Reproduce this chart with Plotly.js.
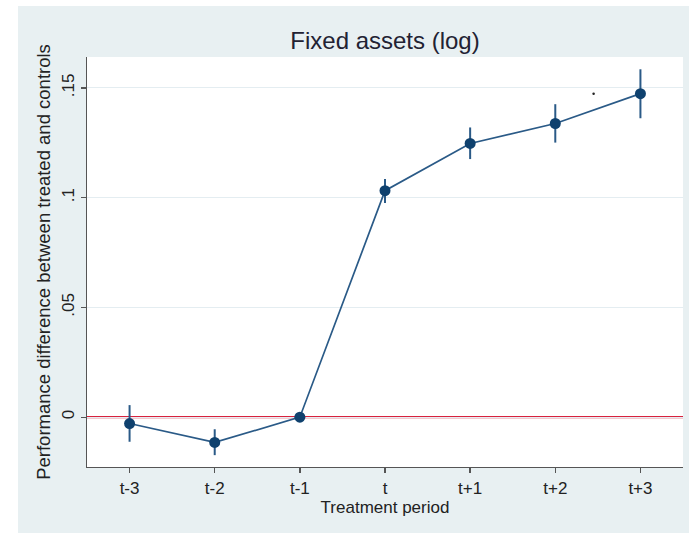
<!DOCTYPE html>
<html>
<head>
<meta charset="utf-8">
<script src="https://cdn.plot.ly/plotly-3.0.1.min.js"></script>
<style>
  html, body { margin: 0; padding: 0; background: #ffffff; width: 691px; height: 533px; overflow: hidden; }
  #chart { position: absolute; left: 18px; top: 6px; width: 671px; height: 527px; }
</style>
</head>
<body>
<div id="chart"></div>
<script>
// Data
const periods = ['t-3', 't-2', 't-1', 't', 't+1', 't+2', 't+3'];
const periodIndex = [0, 1, 2, 3, 4, 5, 6];
const estimates = [-0.0029, -0.0115, 0.0, 0.1032, 0.1247, 0.1338, 0.1474];
const ciUpper = [0.0055, -0.0055, 0.0, 0.1085, 0.1320, 0.1426, 0.1585];
const ciLower = [-0.0112, -0.0173, 0.0, 0.0976, 0.1176, 0.1251, 0.1362];
const yTickVals = [0, 0.05, 0.1, 0.15];
const yTickText = ['0', '.05', '.1', '.15'];
const refLine = [0];
const strayX = [5.45];
const strayY = [0.1473];

const errPlus = estimates.map((v, i) => ciUpper[i] - v);
const errMinus = estimates.map((v, i) => v - ciLower[i]);

const font = 'Liberation Sans, Arial, Helvetica, sans-serif';
const navy = '#0f416e';

const traces = [
  {
    x: periodIndex,
    y: estimates,
    type: 'scatter',
    mode: 'lines+markers',
    line: { color: '#2a5a87', width: 1.7 },
    marker: { color: navy, size: 11 },
    error_y: {
      type: 'data',
      symmetric: false,
      array: errPlus,
      arrayminus: errMinus,
      color: '#2a5a87',
      thickness: 2,
      width: 0
    },
    hoverinfo: 'skip',
    showlegend: false
  },
  {
    x: strayX,
    y: strayY,
    type: 'scatter',
    mode: 'markers',
    marker: { color: '#222222', size: 2.5 },
    hoverinfo: 'skip',
    showlegend: false
  }
];

const layout = {
  width: 671,
  height: 527,
  margin: { l: 69, r: 6, t: 51, b: 66, pad: 0 },
  paper_bgcolor: '#e8f0f2',
  plot_bgcolor: '#ffffff',
  font: { family: font, color: '#222222' },
  showlegend: false,
  title: {
    text: 'Fixed assets (log)',
    font: { family: font, size: 24, color: '#222233' },
    x: 0.5,
    xref: 'paper',
    xanchor: 'center',
    y: 0.934,
    yref: 'container',
    yanchor: 'middle'
  },
  xaxis: {
    range: [-0.5, 6.5],
    tickvals: periodIndex,
    ticktext: periods,
    ticks: 'outside',
    ticklen: 5,
    tickwidth: 1.3,
    tickcolor: '#555555',
    showline: true,
    linecolor: '#555555',
    linewidth: 1.3,
    showgrid: false,
    zeroline: false,
    tickfont: { family: font, size: 17, color: '#222222' },
    title: { text: 'Treatment period', font: { family: font, size: 17, color: '#222222' }, standoff: 1 },
    automargin: false,
    fixedrange: true
  },
  yaxis: {
    range: [-0.0227, 0.1641],
    tickvals: yTickVals,
    ticktext: yTickText,
    tickangle: -90,
    ticks: 'outside',
    ticklen: 5,
    tickwidth: 1.3,
    tickcolor: '#555555',
    showline: true,
    linecolor: '#555555',
    linewidth: 1.3,
    showgrid: true,
    gridcolor: '#e4edf1',
    gridwidth: 1,
    zeroline: false,
    tickfont: { family: font, size: 17, color: '#222222' },
    title: { text: 'Performance difference between treated and controls', font: { family: font, size: 18.5, color: '#222222' }, standoff: 3 },
    automargin: false,
    fixedrange: true
  },
  shapes: [
    {
      type: 'line',
      xref: 'paper',
      yref: 'y',
      x0: 0,
      x1: 1,
      y0: refLine[0],
      y1: refLine[0],
      line: { color: '#d9213d', width: 2.2 },
      layer: 'between'
    }
  ]
};

Plotly.newPlot('chart', traces, layout, { staticPlot: true, displayModeBar: false });
</script>
</body>
</html>
